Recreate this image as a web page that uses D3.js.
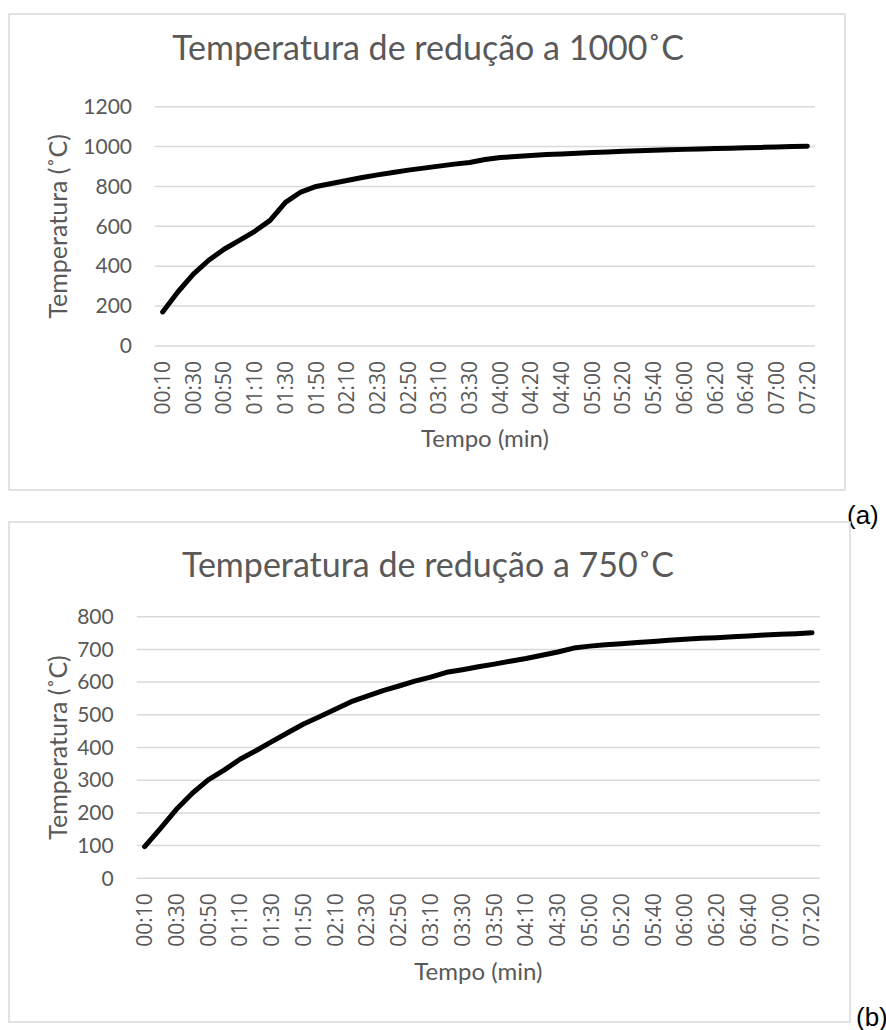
<!DOCTYPE html>
<html>
<head>
<meta charset="utf-8">
<script src="https://cdn.jsdelivr.net/npm/d3@7"></script>
<style>
  body { margin: 0; background: #fff; }
  svg text { font-family: Lato, "Open Sans", sans-serif; fill: #595959; }
  svg .xtick text { font-family: "Open Sans", sans-serif; }
  svg .tag { font-family: "Liberation Sans", Arial, sans-serif; fill: #000; }
</style>
</head>
<body>
<div id="chart"></div>
<script>
// categories (time labels) and temperatures
const timesA = ["00:10","00:20","00:30","00:40","00:50","01:00","01:10","01:20","01:30","01:40",
  "01:50","02:00","02:10","02:20","02:30","02:40","02:50","03:00","03:10","03:20",
  "03:30","03:40","04:00","04:10","04:20","04:30","04:40","04:50","05:00","05:10",
  "05:20","05:30","05:40","05:50","06:00","06:10","06:20","06:30","06:40","06:50",
  "07:00","07:10","07:20"];
const tempA = [171, 272, 360, 430, 485, 530, 575, 630, 720, 772,
  800, 815, 830, 845, 858, 870, 882, 892, 902, 912,
  920, 935, 945, 950, 955, 960, 963, 966, 970, 973,
  976, 979, 981, 984, 986, 988, 990, 992, 994, 996,
  998, 1000, 1002];

const timesB = ["00:10","00:20","00:30","00:40","00:50","01:00","01:10","01:20","01:30","01:40",
  "01:50","02:00","02:10","02:20","02:30","02:40","02:50","03:00","03:10","03:20",
  "03:30","03:40","03:50","04:00","04:10","04:20","04:30","04:40","05:00","05:10",
  "05:20","05:30","05:40","05:50","06:00","06:10","06:20","06:30","06:40","06:50",
  "07:00","07:10","07:20"];
const tempB = [97, 153, 211, 260, 301, 331, 364, 390, 418, 445,
  472, 494, 517, 540, 557, 574, 588, 603, 615, 630,
  638, 647, 655, 664, 672, 682, 692, 704, 710, 714,
  717, 721, 724, 728, 731, 734, 736, 739, 741, 744,
  746, 748, 751];

const yTicksA = [0, 200, 400, 600, 800, 1000, 1200];
const yTicksB = [0, 100, 200, 300, 400, 500, 600, 700, 800];

const svg = d3.select("#chart")
              .append("svg")
              .attr("width", 886)
              .attr("height", 1030);

drawChart({
  times: timesA, temps: tempA, yTicks: yTicksA,
  title: "Temperatura de redução a 1000˚C", tag: "(a)",
  box: {x: 9, y: 14, w: 836, h: 476},
  plot: {left: 155, right: 815, top: 106.7, bottom: 346},
  titleX: 428, titleY: 60, yTitleX: 67, xTitleY: 447, tagX: 847, tagY: 524
});

drawChart({
  times: timesB, temps: tempB, yTicks: yTicksB,
  title: "Temperatura de redução a 750˚C", tag: "(b)",
  box: {x: 9, y: 522, w: 841, h: 500},
  plot: {left: 136.7, right: 820, top: 616.7, bottom: 878.3},
  titleX: 428, titleY: 577, yTitleX: 67, xTitleY: 980, tagX: 856, tagY: 1026
});

function drawChart(c) {
  const g = svg.append("g");

  g.append("rect")
   .attr("x", c.box.x)
   .attr("y", c.box.y)
   .attr("width", c.box.w)
   .attr("height", c.box.h)
   .attr("fill", "#fff")
   .attr("stroke", "#d9d9d9")
   .attr("stroke-width", 1.5);

  const x = d3.scaleBand()
              .domain(c.times)
              .range([c.plot.left, c.plot.right])
              .padding(0);

  const y = d3.scaleLinear()
              .domain([0, d3.max(c.yTicks)])
              .range([c.plot.bottom, c.plot.top]);

  // horizontal gridlines
  g.selectAll("line.grid")
   .data(c.yTicks)
   .enter()
   .append("line")
   .attr("class", "grid")
   .attr("x1", c.plot.left)
   .attr("x2", c.plot.right)
   .attr("y1", d => y(d))
   .attr("y2", d => y(d))
   .attr("stroke", "#d9d9d9")
   .attr("stroke-width", 1.5);

  // y axis
  const yAxis = g.append("g")
                 .attr("transform", `translate(${c.plot.left},0)`)
                 .call(d3.axisLeft(y).tickValues(c.yTicks).tickFormat(d3.format("d")).tickSize(0).tickPadding(23));
  yAxis.select(".domain").remove();
  yAxis.selectAll("text")
       .style("font-size", "21px");

  // x axis, every second category labelled
  const xAxis = g.append("g")
                 .attr("class", "xtick")
                 .attr("transform", `translate(0,${c.plot.bottom})`)
                 .call(d3.axisBottom(x).tickValues(c.times.filter((d, i) => i % 2 === 0)).tickSize(0));
  xAxis.select(".domain").remove();
  xAxis.selectAll("text")
       .attr("transform", "rotate(-90)")
       .attr("x", -15)
       .attr("y", 0)
       .attr("dy", "0.35em")
       .style("text-anchor", "end")
       .style("font-size", "21px");

  // titles
  g.append("text")
   .attr("x", c.titleX)
   .attr("y", c.titleY)
   .attr("text-anchor", "middle")
   .style("font-size", "34px")
   .text(c.title);

  g.append("text")
   .attr("x", (c.plot.left + c.plot.right) / 2)
   .attr("y", c.xTitleY)
   .attr("text-anchor", "middle")
   .style("font-size", "24px")
   .text("Tempo (min)");

  g.append("text")
   .attr("transform", `translate(${c.yTitleX},${(c.plot.top + c.plot.bottom) / 2}) rotate(-90)`)
   .attr("text-anchor", "middle")
   .style("font-size", "25px")
   .text("Temperatura (˚C)");

  // the series
  const line = d3.line()
                 .x((d, i) => x(c.times[i]) + x.bandwidth() / 2)
                 .y(d => y(d));

  g.append("path")
   .datum(c.temps)
   .attr("d", line)
   .attr("fill", "none")
   .attr("stroke", "#000")
   .attr("stroke-width", 5)
   .attr("stroke-linecap", "round")
   .attr("stroke-linejoin", "round");

  svg.append("text")
     .attr("class", "tag")
     .attr("x", c.tagX)
     .attr("y", c.tagY)
     .style("font-size", "26px")
     .text(c.tag);
}
</script>
</body>
</html>
